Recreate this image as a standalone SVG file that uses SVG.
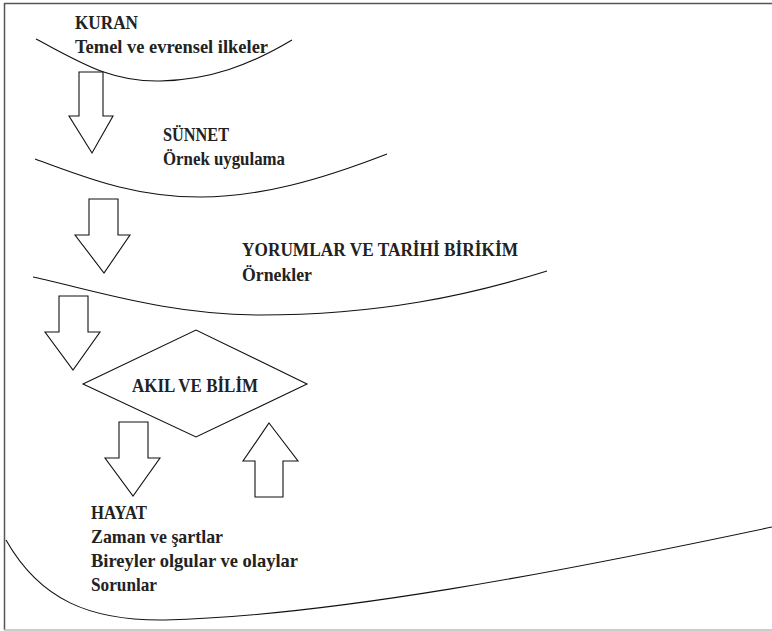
<svg xmlns="http://www.w3.org/2000/svg" width="772" height="631" viewBox="0 0 772 631">
<style>
.ln{fill:none;stroke:#111;stroke-width:1.1}
.sh{fill:#fff;stroke:#111;stroke-width:1.1;stroke-linejoin:miter}
.t{font-family:"Liberation Serif","Times New Roman",serif;font-weight:bold;font-size:19px;fill:#222}
</style>
<rect x="0" y="0" width="772" height="631" fill="#fff"/>
<g id="frame">
<line x1="4.5" y1="3" x2="4.5" y2="630" stroke="#555" stroke-width="1.5"/>
<line x1="4" y1="3.5" x2="772" y2="3.5" stroke="#555" stroke-width="1.5"/>
<line x1="4" y1="630" x2="772" y2="630" stroke="#bbb" stroke-width="1.5"/>
</g>
<g id="kuran">
<path class="ln" d="M36,39 C80,62 110,82 160,81 C210,80 250,65 292,40"/>
<text class="t" x="75" y="29" textLength="63" lengthAdjust="spacingAndGlyphs">KURAN</text>
<text class="t" x="75" y="53" textLength="193" lengthAdjust="spacingAndGlyphs">Temel ve evrensel ilkeler</text>
</g>
<g id="sunnet">
<path class="ln" d="M35,159 C80,175 130,197 200,197 C260,197 320,180 387,154"/>
<text class="t" x="163" y="141" textLength="66" lengthAdjust="spacingAndGlyphs">SÜNNET</text>
<text class="t" x="163" y="165" textLength="122" lengthAdjust="spacingAndGlyphs">Örnek uygulama</text>
</g>
<g id="yorumlar">
<path class="ln" d="M33,277 C100,292 170,315 260,315 C380,315 470,295 547,271"/>
<text class="t" x="242" y="256" textLength="276" lengthAdjust="spacingAndGlyphs">YORUMLAR VE TARİHİ BİRİKİM</text>
<text class="t" x="242" y="281" textLength="70" lengthAdjust="spacingAndGlyphs">Örnekler</text>
</g>
<g id="akil">
<polygon class="sh" points="83,384 196,330 307,384 196,437"/>
<text class="t" x="132" y="392" textLength="126" lengthAdjust="spacingAndGlyphs">AKIL VE BİLİM</text>
</g>
<g id="hayat">
<path class="ln" d="M6,540 C40,600 90,621 165,620 C330,616 560,572 772,527"/>
<text class="t" x="91" y="519" textLength="56" lengthAdjust="spacingAndGlyphs">HAYAT</text>
<text class="t" x="91" y="543" textLength="132" lengthAdjust="spacingAndGlyphs">Zaman ve şartlar</text>
<text class="t" x="91" y="567" textLength="207" lengthAdjust="spacingAndGlyphs">Bireyler olgular ve olaylar</text>
<text class="t" x="91" y="591" textLength="66" lengthAdjust="spacingAndGlyphs">Sorunlar</text>
</g>
<g id="connectors">
<polygon class="sh" points="79,72 103,72 103,116 113,116 92,153 69,116 79,116"/>
<polygon class="sh" points="89,199 118,199 118,235 130,235 104,273 75,235 89,235"/>
<polygon class="sh" points="59,296 88,296 88,332 100,332 73,370 45,332 59,332"/>
<polygon class="sh" points="119,422 148,422 148,458 160,458 133,496 105,458 119,458"/>
<polygon class="sh" points="269,423 298,461 283,461 283,497 255,497 255,461 243,461"/>
</g>
</svg>
